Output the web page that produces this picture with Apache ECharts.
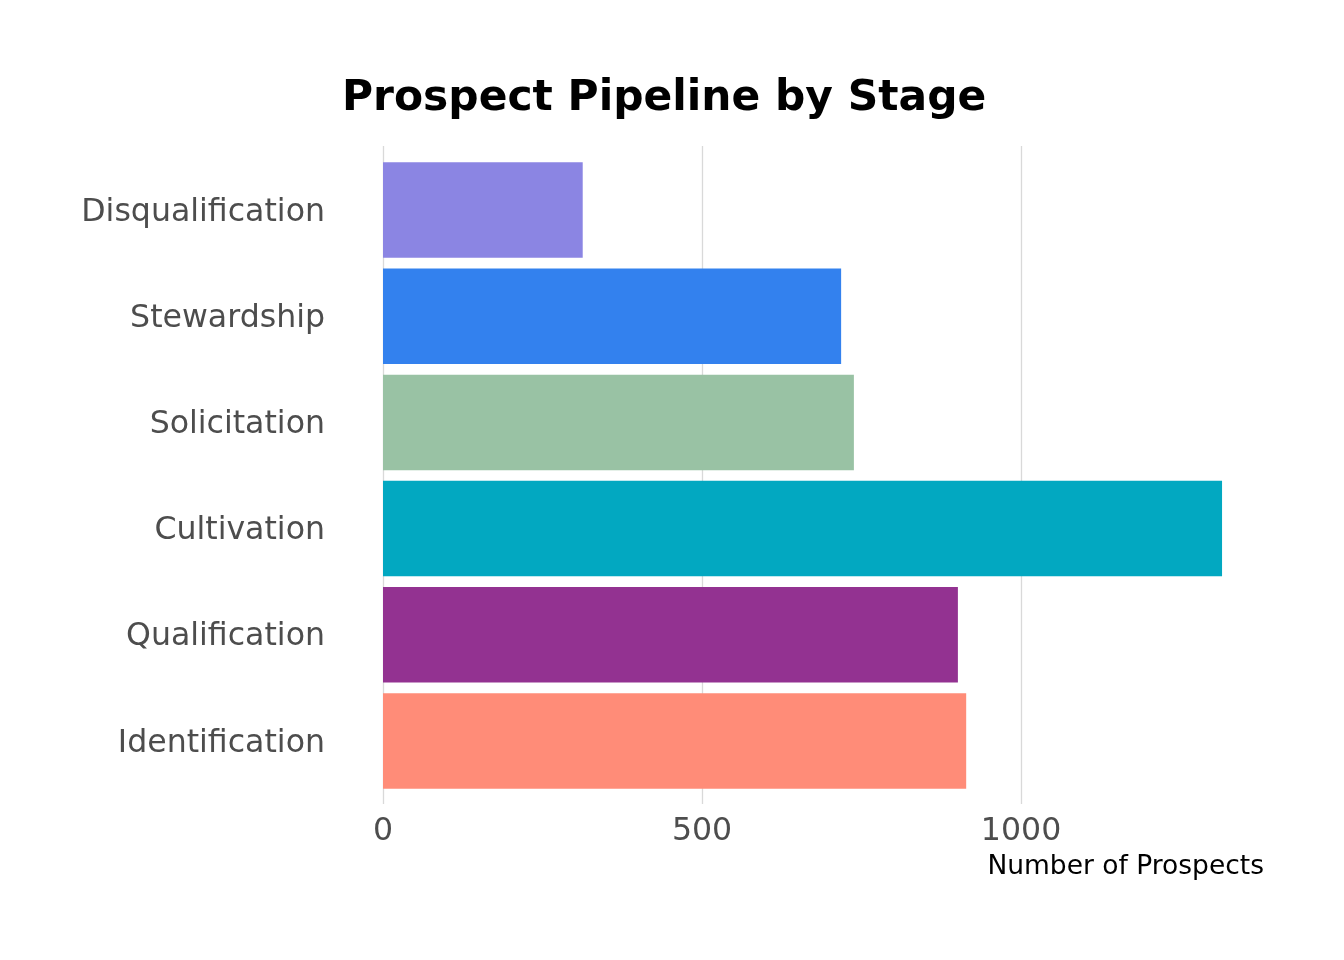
<!DOCTYPE html>
<html>
<head>
<meta charset="utf-8">
<script src="https://cdn.jsdelivr.net/npm/echarts@6/dist/echarts.min.js"></script>
<style>html,body{margin:0;padding:0;background:#fff}#c{width:1344px;height:960px}</style>
</head>
<body>
<div id="c"></div>
<script>
// Categories listed bottom to top (ECharts category y-axis order)
const stages = ['Identification', 'Qualification', 'Cultivation', 'Solicitation', 'Stewardship', 'Disqualification'];
const prospects = [914, 901, 1315, 738, 718, 313];
const stageColors = ['#FF8C78', '#933291', '#02A8C1', '#99C2A4', '#3381EE', '#8B85E3'];
const xTicks = [0, 500, 1000];

const xMax = Math.max(...prospects) * 1.05;
const font = 'DejaVu Sans';

const chart = echarts.init(document.getElementById('c'), null, {renderer: 'canvas'});
chart.setOption({
  backgroundColor: '#ffffff',
  animation: false,
  title: {
    text: 'Prospect Pipeline by Stage',
    left: 342,
    top: 78,
    padding: 0,
    textStyle: {fontFamily: font, fontWeight: 'bold', fontSize: 42.4, color: '#000000'}
  },
  grid: [
    {left: 383, width: 881, top: 157, height: 637, containLabel: false},
    {left: 383, width: 881, top: 146, height: 658, containLabel: false}
  ],
  xAxis: [
    {
      type: 'value', gridIndex: 0, min: 0, max: xMax,
      axisLine: {show: false}, axisTick: {show: false}, axisLabel: {show: false}, splitLine: {show: false}
    },
    {
      type: 'value', gridIndex: 1, min: 0, max: xMax, interval: xTicks[1] - xTicks[0],
      axisLine: {show: false}, axisTick: {show: false},
      axisLabel: {
        showMaxLabel: false, margin: 12,
        fontFamily: font, fontSize: 31.6, color: '#4D4D4D',
        formatter: v => (xTicks.indexOf(v) >= 0 ? String(v) : '')
      },
      splitLine: {show: true, showMaxLine: false, lineStyle: {color: '#D9D9D9', width: 1.3}},
      name: 'Number of Prospects',
      nameLocation: 'end',
      nameGap: 0,
      nameTextStyle: {fontFamily: font, fontSize: 26.5, color: '#000000', align: 'right', verticalAlign: 'top', padding: [50, 0, 0, 0]}
    }
  ],
  yAxis: [
    {
      type: 'category', gridIndex: 0, data: stages,
      axisLine: {show: false}, axisTick: {show: false}, splitLine: {show: false},
      axisLabel: {
        margin: 58,
        formatter: v => '{s|' + v + '}',
        rich: {s: {fontFamily: font, fontSize: 31.6, color: '#4D4D4D', padding: [5, 0, 0, 0]}}
      }
    },
    {type: 'value', gridIndex: 1, show: false, min: 0, max: 1}
  ],
  series: [{
    type: 'bar',
    xAxisIndex: 0, yAxisIndex: 0,
    barCategoryGap: '10%',
    data: prospects.map((v, i) => ({value: v, itemStyle: {color: stageColors[i]}})),
    z: 3
  }]
});
</script>
</body>
</html>
